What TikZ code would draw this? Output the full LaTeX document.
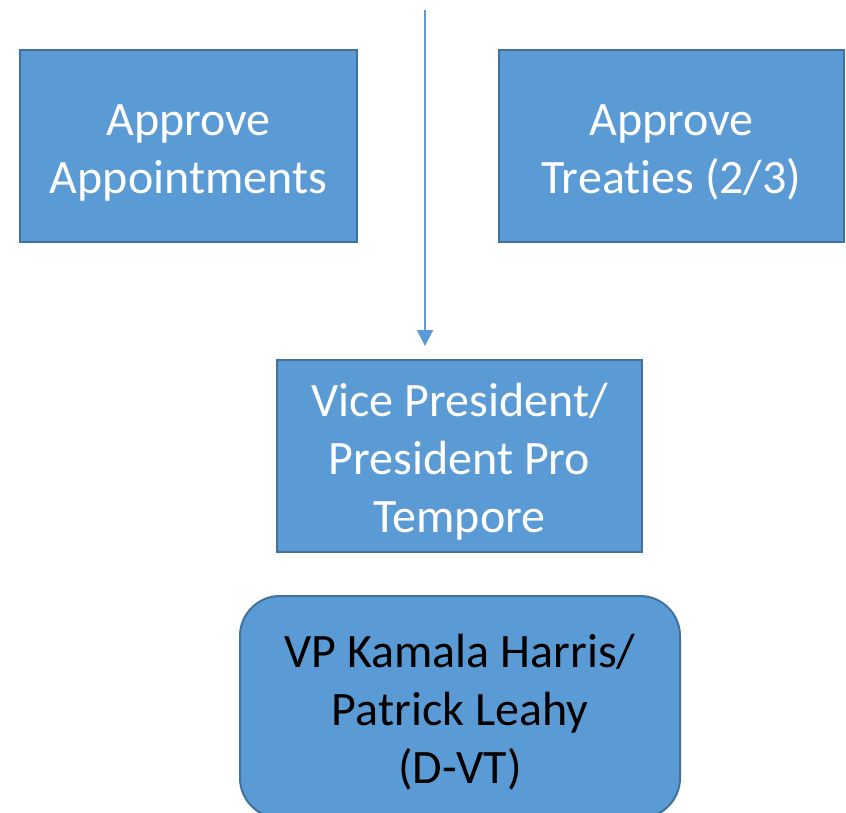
\documentclass[tikz,border=0pt]{standalone}
\usepackage{fontspec}
\setmainfont{Carlito}[Ligatures=NoCommon]
\usetikzlibrary{arrows.meta}

\definecolor{boxblue}{HTML}{5B9BD5}
\definecolor{boxedge}{HTML}{41719C}
\newcommand{\topgap}{\rule{0pt}{44pt}}

\begin{document}
\begin{tikzpicture}[x=1pt,y=-1pt,
      every node/.append style={font=\fontsize{48}{58}\selectfont,align=center},
      duty/.style={rectangle,draw=boxedge,line width=2pt,fill=boxblue,text=white,inner sep=0pt},
      person/.style={rectangle,rounded corners=40pt,draw=boxedge,line width=2pt,fill=boxblue,text=black,inner sep=0pt}]
    \useasboundingbox (0,0) rectangle (846,812);
    \clip (0,0) rectangle (846,812);
    \node (appoint) [duty,minimum width=337pt,minimum height=192pt] at (188.5,146) {\topgap Approve\\Appointments};
    \node (treaty) [duty,minimum width=345pt,minimum height=192pt] at (671.5,146) {\topgap Approve\\Treaties (2/3)};
    \node (vp) [duty,minimum width=365pt,minimum height=192pt] at (459.5,456) {\topgap Vice President/\\President Pro\\Tempore};
    \node (leader) [person,minimum width=440pt,minimum height=222pt] at (460,707) {\topgap VP Kamala Harris/\\Patrick Leahy\\(D-VT)};
    % arrow down to the presiding officer
    \coordinate (top) at (425,10);
    \coordinate (tip) at (425,346);
    \draw [boxblue,line width=2pt,-{Triangle[length=16pt,width=16pt]}] (top) -- (tip);
\end{tikzpicture}
\end{document}
